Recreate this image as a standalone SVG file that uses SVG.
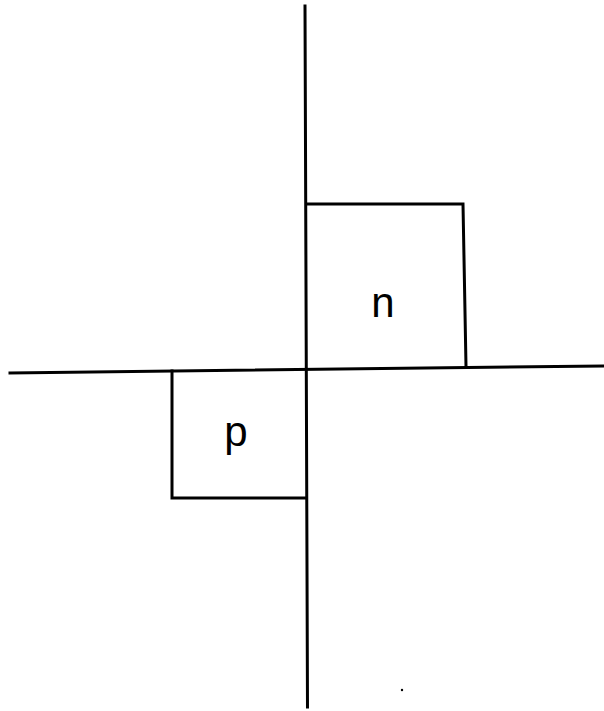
<svg xmlns="http://www.w3.org/2000/svg" width="604" height="711" viewBox="0 0 604 711">
<style>
.ln{stroke:#000;stroke-width:3;fill:none;stroke-linecap:square;stroke-linejoin:miter}
.lbl{font-family:"Liberation Sans",Arial,sans-serif;font-size:42px;fill:#000;text-anchor:middle}
</style>
<rect width="604" height="711" fill="#fff"/>
<g id="connectors">
<path id="axis-v" class="ln" d="M305,6 L307.5,707"/>
<path id="axis-h" class="ln" d="M10,373 L603,366"/>
</g>
<g id="node-n">
<path class="ln" d="M306.5,204 L463,204 L466,366"/>
<text class="lbl" x="383" y="317">n</text>
</g>
<g id="node-p">
<path class="ln" d="M172,371 L172,498 L306,498"/>
<text class="lbl" x="236" y="446">p</text>
</g>
<circle cx="402" cy="690" r="1.2" fill="#000"/>
</svg>
